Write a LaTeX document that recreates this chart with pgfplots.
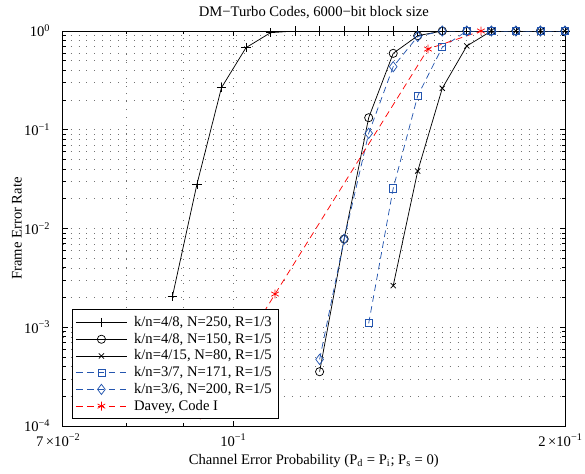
\documentclass[border=0pt]{standalone}
\usepackage{pgfplots}
\pgfplotsset{compat=1.18}
\usepackage{fontspec}
\setmainfont{Liberation Serif}
\definecolor{mblue}{RGB}{35,85,175}
\definecolor{mred}{RGB}{255,0,0}
\begin{document}
\begin{tikzpicture}
\useasboundingbox (-42.9bp,-32.8bp) rectangle (357.1bp,291.3bp);
\begin{axis}[
  at={(0,0)}, anchor=south west,
  scale only axis, width=343.4bp, height=270.1bp,
  xmode=log, ymode=log,
  xmin=0.07, xmax=0.2, ymin=1e-4, ymax=1,
  font=\fontsize{10bp}{12bp}\selectfont,
  xtick={0.1}, xticklabels={10\textsuperscript{−1}},
  minor xtick={0.08,0.09},
  extra x ticks={0.07,0.2},
  extra x tick labels={7\,×10\textsuperscript{−2},2\,×10\textsuperscript{−1}},
  extra x tick style={grid=none, xticklabel style={xshift=-3bp}},
  ytick={1e-4,1e-3,1e-2,1e-1,1},
  yticklabels={10\textsuperscript{−4},10\textsuperscript{−3},10\textsuperscript{−2},10\textsuperscript{−1},10\textsuperscript{0}},
  minor ytick={2e-4,3e-4,4e-4,5e-4,6e-4,7e-4,8e-4,9e-4,2e-3,3e-3,4e-3,5e-3,6e-3,7e-3,8e-3,9e-3,2e-2,3e-2,4e-2,5e-2,6e-2,7e-2,8e-2,9e-2,0.2,0.3,0.4,0.5,0.6,0.7,0.8,0.9},
  yticklabel style={xshift=-5bp},
  xticklabel style={yshift=-2bp},
  grid=both,
  major grid style={black!55, line width=0.4bp, dash pattern=on 0.6bp off 4.8bp},
  minor grid style={black!55, line width=0.4bp, dash pattern=on 0.6bp off 4.8bp},
  major tick length=3.5bp, minor tick length=2bp,
  tick style={black, line width=0.5bp},
  axis line style={black, line width=0.6bp},
  every axis title/.style={at={(axis description cs:0.5,1.0455)}, anchor=center},
  title={DM−Turbo Codes, 6000−bit block size},
  every axis x label/.style={at={(axis description cs:0.5,-0.0889)}, anchor=center},
  xlabel={Channel Error Probability (P\textsubscript{d} = P\textsubscript{i}; P\textsubscript{s} = 0)},
  every axis y label/.style={at={(axis description cs:-0.0911,0.5)}, rotate=90, anchor=center},
  ylabel={Frame Error Rate},
  legend cell align=left,
  legend style={at={(axis description cs:0.0175,0.017)}, anchor=south west,
    draw=black, line width=0.6bp, fill=white, row sep=0pt, inner xsep=2.5bp, inner ysep=3bp,
    nodes={inner ysep=1.5bp},
    font=\fontsize{10bp}{12bp}\selectfont},
  legend image code/.code={\draw[mark repeat=2,mark phase=2] plot coordinates {(3bp,0bp) (20.4bp,0bp) (37.7bp,0bp)}; \path (40.5bp,0bp);},
]
\addplot[black, line width=0.5bp, mark=+, mark size=3.2bp] coordinates {
(0.088025,0.00204) (0.092658,0.0280) (0.097535,0.2666) (0.102668,0.678) (0.108072,0.961)
(0.113760,1) (0.119747,1) (0.126050,1) (0.132684,1) (0.139667,1) (0.147018,1)
(0.154756,1) (0.162901,1) (0.171475,1) (0.1805,1) (0.19,1) (0.2,1)};
\addlegendentry{k/n=4/8, N=250, R=1/3}
\addplot[black, line width=0.5bp, mark=o, mark size=2.8bp] coordinates {
(0.119747,3.55e-4) (0.126050,0.00783) (0.132684,0.1324) (0.139667,0.594) (0.147018,0.896)
(0.154756,1) (0.162901,1) (0.171475,1) (0.1805,1) (0.19,1) (0.2,1)};
\addlegendentry{k/n=4/8, N=150, R=1/5}
\addplot[black, line width=0.5bp, mark=x, mark size=2.5bp] coordinates {
(0.139667,0.00264) (0.147018,0.0382) (0.154756,0.263) (0.162901,0.705)
(0.171475,1) (0.1805,1) (0.19,1) (0.2,1)};
\addlegendentry{k/n=4/15, N=80, R=1/5}
\addplot[mblue, line width=0.5bp, dash pattern=on 4.5bp off 3bp, mark=square, mark size=2.4bp, mark options={solid}] coordinates {
(0.132684,0.001096) (0.139667,0.0255) (0.147018,0.221) (0.154756,0.684)
(0.162901,1) (0.171475,1) (0.1805,1) (0.19,1) (0.2,1)};
\addlegendentry{k/n=3/7, N=171, R=1/5}
\addplot[mblue, line width=0.5bp, dash pattern=on 4.5bp off 3bp, mark=diamond, mark size=3.5bp, mark options={solid}] coordinates {
(0.119747,4.73e-4) (0.126050,0.0078) (0.132684,0.092) (0.139667,0.435) (0.147018,0.88)
(0.154756,1) (0.162901,1) (0.171475,1) (0.1805,1) (0.19,1) (0.2,1)};
\addlegendentry{k/n=3/6, N=200, R=1/5}
\addplot[mred, line width=0.5bp, dash pattern=on 4.5bp off 3bp, mark=asterisk, mark size=3bp, mark options={solid}] coordinates {
(0.0933,1.29e-4) (0.1091,0.00217) (0.1502,0.657) (0.1678,1)};
\addlegendentry{Davey, Code I}
\end{axis}
\end{tikzpicture}
\end{document}
